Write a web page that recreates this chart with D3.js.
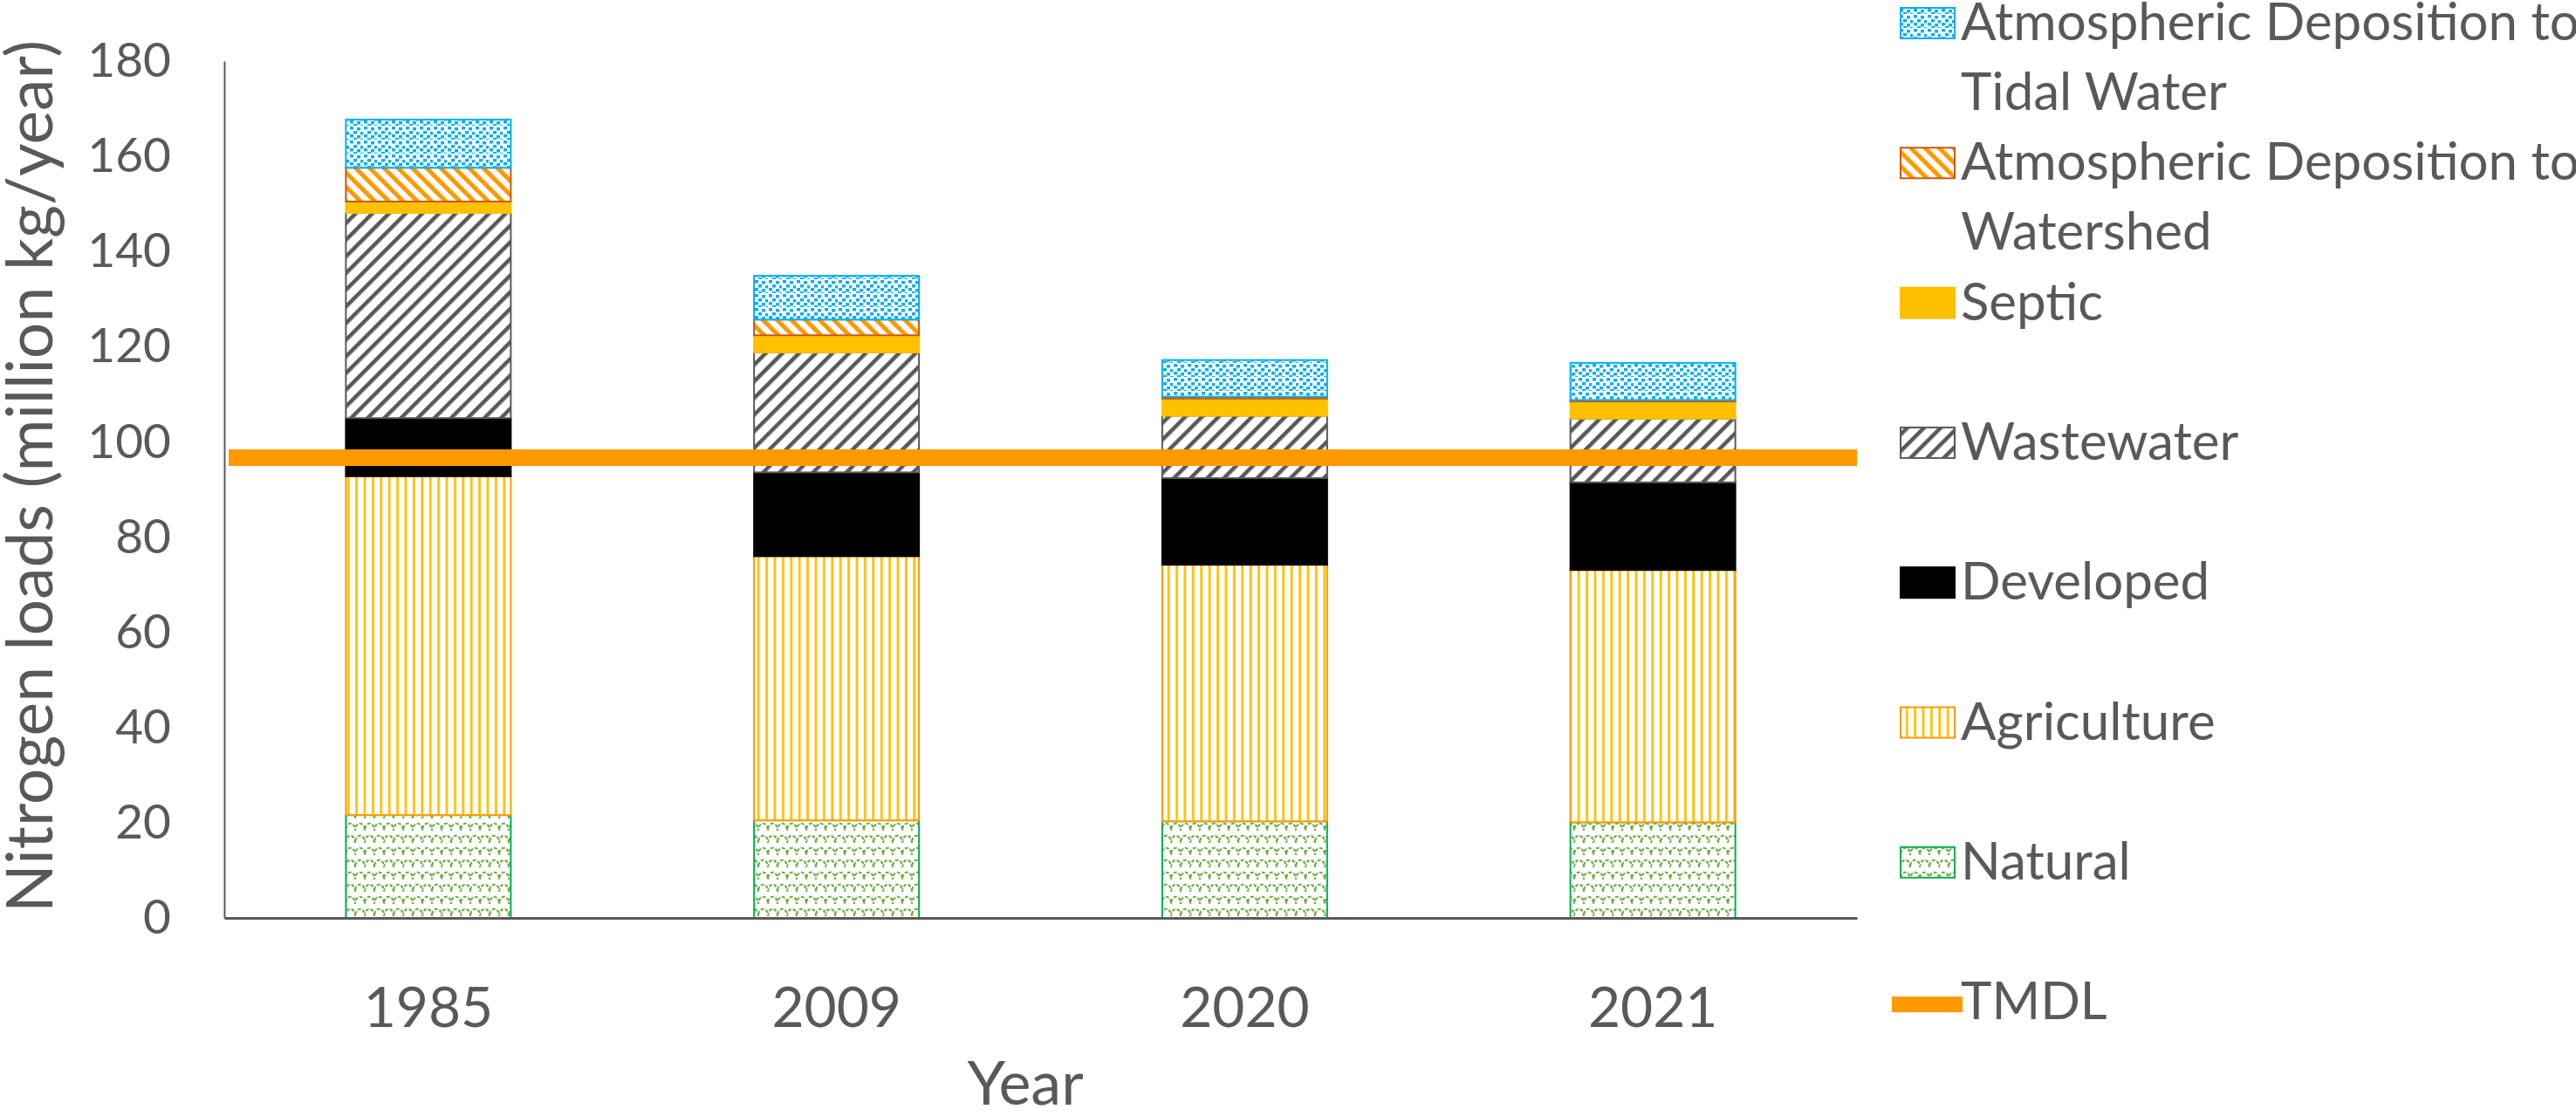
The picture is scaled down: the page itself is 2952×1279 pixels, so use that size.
<!DOCTYPE html>
<html>
<head>
<meta charset="utf-8">
<script src="https://cdn.jsdelivr.net/npm/d3@7"></script>
<style>
  body { margin: 0; background: #fff; }
  svg { display: block; }
</style>
</head>
<body>
<svg id="chart" width="2952" height="1279"></svg>
<script>
// values (million kg/year), bottom to top of each bar
var years = ["1985", "2009", "2020", "2021"];
var natural = [21.6, 20.5, 20.3, 20.1];
var agriculture = [71.2, 55.5, 53.9, 53.0];
var developed = [12.2, 17.6, 18.2, 18.4];
var wastewater = [43.1, 25.2, 13.1, 13.4];
var septic = [2.4, 3.6, 3.6, 3.6];
var atmWatershed = [7.1, 3.3, 0.4, 0.3];
var atmTidal = [10.1, 9.2, 7.7, 7.8];
var tmdl = 96.7;
var yTicks = [0, 20, 40, 60, 80, 100, 120, 140, 160, 180];

var seriesNames = ["Natural", "Agriculture", "Developed", "Wastewater", "Septic",
  "Atmospheric Deposition to Watershed", "Atmospheric Deposition to Tidal Water"];
var seriesValues = [natural, agriculture, developed, wastewater, septic, atmWatershed, atmTidal];

var grey = "#595959";
var font = "Lato, 'Open Sans', sans-serif";

var svg = d3.select("#chart");
var plotLeft = 257, plotRight = 2128, plotTop = 70, plotBottom = 1052;

var x = d3.scaleBand().domain(years).range([plotLeft, plotRight]).paddingInner(0.596).paddingOuter(0.298);
var y = d3.scaleLinear().domain([0, 180]).range([plotBottom, plotTop]);

// fill patterns
var defs = svg.append("defs");

var pTidal = defs.append("pattern").attr("id", "pTidal").attr("patternUnits", "userSpaceOnUse")
  .attr("width", 16).attr("height", 16);
pTidal.append("rect").attr("width", 16).attr("height", 16).attr("fill", "#fff");
[[1,1],[9,2],[5,6],[13,7],[1,10],[9,11],[5,14],[13,15]].forEach(function (p) {
  pTidal.append("rect").attr("x", p[0]).attr("y", p[1]).attr("width", 4).attr("height", 3.5).attr("fill", "#00B0F0");
});

var pAdw = defs.append("pattern").attr("id", "pAdw").attr("patternUnits", "userSpaceOnUse")
  .attr("width", 11.5).attr("height", 11.5).attr("patternTransform", "rotate(-45)");
pAdw.append("rect").attr("width", 11.5).attr("height", 11.5).attr("fill", "#fff");
pAdw.append("rect").attr("width", 5).attr("height", 11.5).attr("fill", "#FF9900");

var pWw = defs.append("pattern").attr("id", "pWw").attr("patternUnits", "userSpaceOnUse")
  .attr("width", 13.5).attr("height", 13.5).attr("patternTransform", "rotate(45)");
pWw.append("rect").attr("width", 13.5).attr("height", 13.5).attr("fill", "#fff");
pWw.append("rect").attr("width", 4.5).attr("height", 13.5).attr("fill", grey);

var pAgri = defs.append("pattern").attr("id", "pAgri").attr("patternUnits", "userSpaceOnUse")
  .attr("width", 9.4).attr("height", 10);
pAgri.append("rect").attr("width", 9.4).attr("height", 10).attr("fill", "#fff");
pAgri.append("rect").attr("x", 3).attr("width", 2.8).attr("height", 10).attr("fill", "#FFC000");

// shingle pattern: two offset rows of arcs
var pNat = defs.append("pattern").attr("id", "pNat").attr("patternUnits", "userSpaceOnUse")
  .attr("width", 22).attr("height", 28);
pNat.append("rect").attr("width", 22).attr("height", 28).attr("fill", "#fff");
pNat.append("path")
  .attr("d", "M0,14 C0,3 11,3 11,14 C11,3 22,3 22,14 " +
             "M-11,28 C-11,17 0,17 0,28 C0,17 11,17 11,28 C11,17 22,17 22,28 C22,17 33,17 33,28 " +
             "M-11,0 C-11,-11 0,-11 0,0 C0,-11 11,-11 11,0 C11,-11 22,-11 22,0 C22,-11 33,-11 33,0")
  .attr("fill", "none").attr("stroke", "#70AD47").attr("stroke-width", 2.2).attr("stroke-dasharray", "4,2");

var fills = ["url(#pNat)", "url(#pAgri)", "#000000", "url(#pWw)", "#FFC000", "url(#pAdw)", "url(#pTidal)"];
var strokes = ["#00B050", "#FF9900", "#000000", grey, "#FFC000", "#C55A11", "#00B0F0"];

// stack the series
var table = years.map(function (yr, i) {
  var row = { year: yr };
  seriesNames.forEach(function (n, s) { row[n] = seriesValues[s][i]; });
  return row;
});
var stacked = d3.stack().keys(seriesNames)(table);

svg.append("g").selectAll("g").data(stacked).enter().append("g")
  .attr("fill", function (d, s) { return fills[s]; })
  .attr("stroke", function (d, s) { return strokes[s]; })
  .attr("stroke-width", 2)
  .selectAll("rect").data(function (d) { return d; }).enter().append("rect")
  .attr("x", function (d) { return x(d.data.year); })
  .attr("width", x.bandwidth())
  .attr("y", function (d) { return y(d[1]); })
  .attr("height", function (d) { return y(d[0]) - y(d[1]); });

// axes
var yAxis = svg.append("g").attr("transform", "translate(" + plotLeft + ",0)")
  .call(d3.axisLeft(y).tickValues(yTicks).tickSize(0).tickPadding(61));
yAxis.select(".domain").attr("stroke", grey).attr("stroke-width", 2);
yAxis.selectAll("text").attr("font-family", font).attr("font-size", 55).attr("fill", grey);

var xAxis = svg.append("g").attr("transform", "translate(0," + plotBottom + ")")
  .call(d3.axisBottom(x).tickSize(0).tickPadding(80));
xAxis.select(".domain").attr("stroke", grey).attr("stroke-width", 3);
xAxis.selectAll("text").attr("font-family", font).attr("font-size", 64).attr("fill", grey);

// TMDL line
svg.append("line")
  .attr("x1", plotLeft + 5).attr("x2", plotRight)
  .attr("y1", y(tmdl)).attr("y2", y(tmdl))
  .attr("stroke", "#FF9900").attr("stroke-width", 19);

// axis titles
svg.append("text")
  .attr("transform", "translate(60,546) rotate(-90)")
  .attr("text-anchor", "middle")
  .attr("font-family", font).attr("font-size", 73).attr("fill", grey)
  .text("Nitrogen loads (million kg/year)");

svg.append("text")
  .attr("x", 1175).attr("y", 1266)
  .attr("text-anchor", "middle")
  .attr("font-family", font).attr("font-size", 70).attr("fill", grey)
  .text("Year");

// legend
var legendItems = [
  { lines: ["Atmospheric Deposition to", "Tidal Water"], s: 6 },
  { lines: ["Atmospheric Deposition to", "Watershed"], s: 5 },
  { lines: ["Septic"], s: 4 },
  { lines: ["Wastewater"], s: 3 },
  { lines: ["Developed"], s: 2 },
  { lines: ["Agriculture"], s: 1 },
  { lines: ["Natural"], s: 0 },
  { lines: ["TMDL"], s: -1 }
];
var legend = svg.append("g");
legendItems.forEach(function (item, i) {
  var base = 46 + 160.3 * i;
  if (item.s >= 0) {
    legend.append("rect")
      .attr("x", 2178).attr("y", base - 37).attr("width", 62).attr("height", 35)
      .attr("fill", fills[item.s]).attr("stroke", strokes[item.s]).attr("stroke-width", 2);
  } else {
    legend.append("rect")
      .attr("x", 2168).attr("y", base - 26).attr("width", 81).attr("height", 18)
      .attr("fill", "#FF9900");
  }
  var t = legend.append("text")
    .attr("font-family", font).attr("font-size", 60).attr("fill", grey);
  item.lines.forEach(function (line, k) {
    t.append("tspan").attr("x", 2247).attr("y", base + 80 * k).text(line);
  });
});
</script>
</body>
</html>
